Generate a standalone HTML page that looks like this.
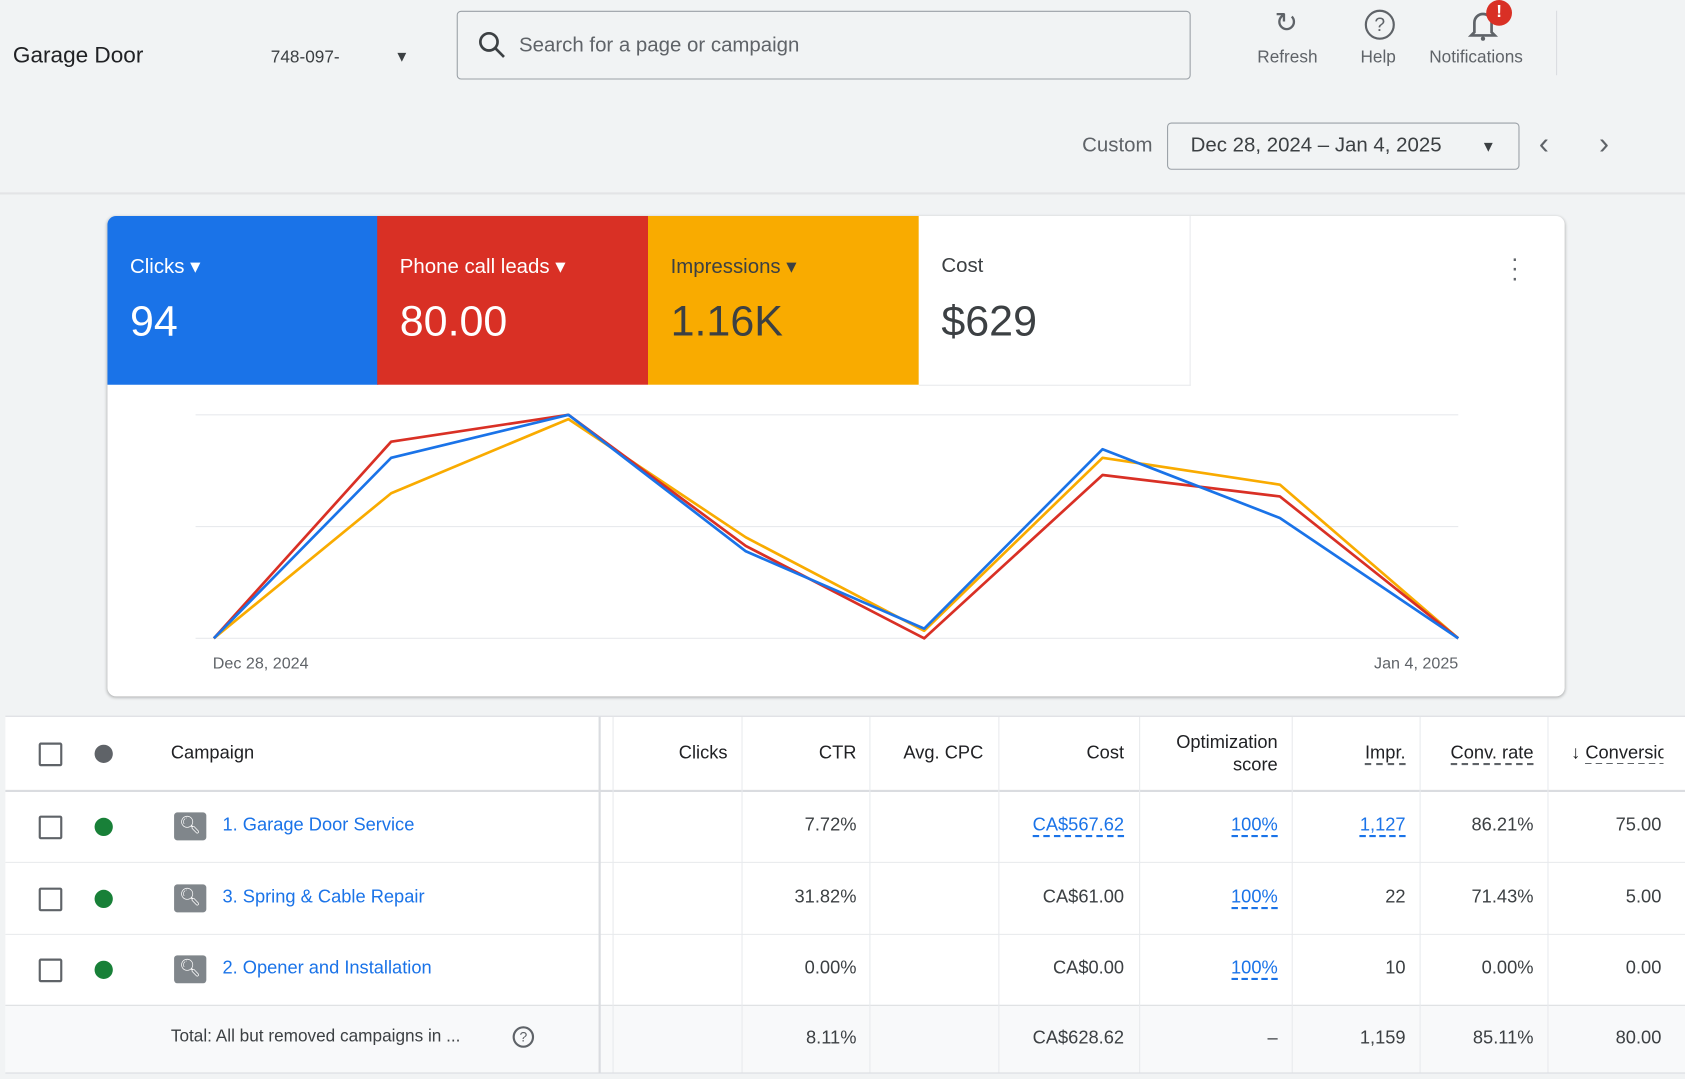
<!DOCTYPE html>
<html><head><meta charset="utf-8"><style>
html,body{margin:0;padding:0;width:1685px;height:1079px;overflow:hidden;background:#f1f3f4;}
#w{position:absolute;left:0;top:0;width:1568px;height:1004px;transform:scale(1.07462);transform-origin:0 0;font-family:"Liberation Sans",Arial,sans-serif;color:#3c4043;}
.a{position:absolute;white-space:nowrap;}
.r{text-align:right;}
.tile{position:absolute;top:201px;height:157px;width:252px;}
.tile .l{position:absolute;left:21px;top:36px;font-size:19px;}
.tile .v{position:absolute;left:21px;top:76px;font-size:40px;}
.cb{position:absolute;left:36px;width:18px;height:18px;border:2px solid #5f6368;border-radius:2px;}
.dot{position:absolute;left:88px;width:17px;height:17px;border-radius:50%;background:#188038;}
.si{position:absolute;left:162px;width:30px;height:26px;background:#80868b;border-radius:3px;color:#fff;font-size:16px;text-align:center;line-height:26px;}
.td{font-size:17px;color:#3c4043;}
.td.lk,.lk{color:#1a73e8;}
.du{border-bottom:2px dashed #1a73e8;}
.dg{border-bottom:2px dashed #5f6368;}
</style></head><body><div id="w">
<div class="a" style="left:12px;top:40px;font-size:21px;color:#202124">Garage Door</div>
<div class="a" style="left:252px;top:45px;font-size:16px">748-097-</div>
<div class="a" style="left:367px;top:44px;font-size:14px;color:#3c4043">▼</div>
<div class="a" style="left:425px;top:10px;width:681px;height:62px;border:1px solid #9aa0a6;border-radius:4px;background:#f1f3f4"></div>
<svg class="a" style="left:444px;top:28px" width="28" height="28"><circle cx="11" cy="11" r="8" fill="none" stroke="#3c4043" stroke-width="2.5"/><line x1="17" y1="17" x2="25" y2="25" stroke="#3c4043" stroke-width="2.5"/></svg>
<div class="a" style="left:483px;top:32px;font-size:19px;color:#5f6368">Search for a page or campaign</div>
<div class="a" style="left:1186px;top:6px;font-size:26px;color:#5f6368">↻</div>
<div class="a" style="left:1170px;top:45px;font-size:16px;color:#5f6368">Refresh</div>
<div class="a" style="left:1270px;top:9px;width:24px;height:24px;border:2px solid #5f6368;border-radius:50%;text-align:center;font-size:18px;line-height:24px;color:#5f6368">?</div>
<div class="a" style="left:1266px;top:45px;font-size:16px;color:#5f6368">Help</div>
<svg class="a" style="left:1366px;top:8px" width="28" height="30"><path d="M6 22 V13 a8 8 0 0 1 16 0 V22 l3 3 H3z" fill="none" stroke="#5f6368" stroke-width="2.5"/><circle cx="14" cy="28" r="2" fill="#5f6368"/></svg>
<div class="a" style="left:1383px;top:0px;width:24px;height:24px;border-radius:50%;background:#d93025;color:#fff;text-align:center;font-weight:bold;font-size:16px;line-height:24px">!</div>
<div class="a" style="left:1330px;top:45px;font-size:16px;color:#5f6368">Notifications</div>
<div class="a" style="left:1448px;top:10px;width:1px;height:60px;background:#dadce0"></div>
<div class="a" style="left:1007px;top:125px;font-size:19px;color:#5f6368">Custom</div>
<div class="a" style="left:1086px;top:114px;width:326px;height:42px;border:1px solid #9aa0a6;border-radius:4px"></div>
<div class="a" style="left:1108px;top:125px;font-size:19px;color:#3c4043">Dec 28, 2024 – Jan 4, 2025</div>
<div class="a" style="left:1378px;top:128px;font-size:14px">▼</div>
<div class="a" style="left:1432px;top:118px;font-size:28px;color:#5f6368">‹</div>
<div class="a" style="left:1488px;top:118px;font-size:28px;color:#5f6368">›</div>
<div class="a" style="left:0;top:179px;width:1568px;height:2px;background:#e3e4e6"></div>
<div class="a" style="left:100px;top:201px;width:1356px;height:447px;background:#fff;border-radius:8px;box-shadow:0 1px 3px rgba(0,0,0,.3)"></div>
<div class="tile" style="left:100px;background:#1a73e8;color:#fff;border-top-left-radius:8px"><div class="l">Clicks ▾</div><div class="v">94</div></div>
<div class="tile" style="left:351px;background:#d93025;color:#fff"><div class="l">Phone call leads ▾</div><div class="v">80.00</div></div>
<div class="tile" style="left:603px;background:#f9ab00;color:#3c4043"><div class="l">Impressions ▾</div><div class="v">1.16K</div></div>
<div class="tile" style="left:855px;background:#fff;color:#3c4043;border-right:1px solid #e8eaed;border-bottom:1px solid #e8eaed"><div class="l">Cost</div><div class="v">$629</div></div>
<div class="a" style="left:1406px;top:236px;font-size:22px;color:#5f6368;line-height:9px">·<br>·<br>·</div>
<svg class="a" style="left:0;top:0" width="1568" height="660">
<g stroke="#e8eaed" stroke-width="1"><line x1="182" y1="386" x2="1357" y2="386"/><line x1="182" y1="490" x2="1357" y2="490"/><line x1="182" y1="594" x2="1357" y2="594"/></g>
<g fill="none" stroke-width="2.5" stroke-linejoin="round">
<polyline stroke="#f9ab00" points="199,594 364,459 529,390 694,500 860,587 1026,426 1191,451 1357,594"/>
<polyline stroke="#d93025" points="199,594 364,411 529,386 694,508 860,594 1026,442 1191,462 1357,594"/>
<polyline stroke="#1a73e8" points="199,594 364,426 529,386 694,513 860,585 1026,418 1191,482 1357,594"/>
</g>
<text x="198" y="622" font-size="15" fill="#5f6368" font-family="Liberation Sans">Dec 28, 2024</text>
<text x="1357" y="622" font-size="15" fill="#5f6368" text-anchor="end" font-family="Liberation Sans">Jan 4, 2025</text>
</svg>
<div class="a" style="left:5px;top:667px;width:1563px;height:331px;background:#fff"></div>
<div class="a" style="left:5px;top:936px;width:1563px;height:62px;background:#f8f9fa"></div>
<div class="a" style="left:5px;top:666px;width:1563px;height:1px;background:#dadce0"></div>
<div class="a" style="left:5px;top:735px;width:1563px;height:2px;background:#dadce0"></div>
<div class="a" style="left:5px;top:802px;width:1563px;height:1px;background:#e8eaed"></div>
<div class="a" style="left:5px;top:869px;width:1563px;height:1px;background:#e8eaed"></div>
<div class="a" style="left:5px;top:935px;width:1563px;height:1px;background:#dadce0"></div>
<div class="a" style="left:5px;top:998px;width:1563px;height:1px;background:#dadce0"></div>
<div class="a" style="left:557px;top:667px;width:2px;height:331px;background:#dadce0"></div>
<div class="a" style="left:570px;top:667px;width:1px;height:331px;background:#e8eaed"></div>
<div class="a" style="left:690px;top:667px;width:1px;height:331px;background:#e8eaed"></div>
<div class="a" style="left:809px;top:667px;width:1px;height:331px;background:#e8eaed"></div>
<div class="a" style="left:929px;top:667px;width:1px;height:331px;background:#e8eaed"></div>
<div class="a" style="left:1060px;top:667px;width:1px;height:331px;background:#e8eaed"></div>
<div class="a" style="left:1202px;top:667px;width:1px;height:331px;background:#e8eaed"></div>
<div class="a" style="left:1321px;top:667px;width:1px;height:331px;background:#e8eaed"></div>
<div class="a" style="left:1440px;top:667px;width:1px;height:331px;background:#e8eaed"></div>
<div class="cb" style="top:691px"></div>
<div class="a" style="left:88px;top:693px;width:17px;height:17px;border-radius:50%;background:#5f6368"></div>
<div class="a td" style="left:159px;top:691px;font-weight:500;color:#202124">Campaign</div>
<div class="a td r" style="right:891px;top:691px;color:#202124">Clicks</div>
<div class="a td r" style="right:771px;top:691px;color:#202124">CTR</div>
<div class="a td r" style="right:653px;top:691px;color:#202124">Avg. CPC</div>
<div class="a td r" style="right:522px;top:691px;color:#202124">Cost</div>
<div class="a td r" style="right:379px;top:680px;color:#202124;line-height:21px">Optimization<br>score</div>
<div class="a td r" style="right:260px;top:691px;color:#202124"><span class="dg">Impr.</span></div>
<div class="a td r" style="right:141px;top:691px;color:#202124"><span class="dg">Conv. rate</span></div>
<div class="a td" style="left:1462px;top:691px;color:#202124;width:86px;overflow:hidden">↓ <span class="dg">Conversions</span></div>

<div class="cb" style="top:759px"></div><div class="dot" style="top:761px"></div><div class="si" style="top:756px">🔍︎</div>
<div class="a td lk" style="left:207px;top:758px">1. Garage Door Service</div>
<div class="a td r" style="right:771px;top:758px">7.72%</div>
<div class="a td r lk" style="right:522px;top:758px"><span class="du">CA$567.62</span></div>
<div class="a td r lk" style="right:379px;top:758px"><span class="du">100%</span></div>
<div class="a td r lk" style="right:260px;top:758px"><span class="du">1,127</span></div>
<div class="a td r" style="right:141px;top:758px">86.21%</div>
<div class="a td r" style="right:22px;top:758px">75.00</div>

<div class="cb" style="top:826px"></div><div class="dot" style="top:828px"></div><div class="si" style="top:823px">🔍︎</div>
<div class="a td lk" style="left:207px;top:825px">3. Spring &amp; Cable Repair</div>
<div class="a td r" style="right:771px;top:825px">31.82%</div>
<div class="a td r" style="right:522px;top:825px">CA$61.00</div>
<div class="a td r lk" style="right:379px;top:825px"><span class="du">100%</span></div>
<div class="a td r" style="right:260px;top:825px">22</div>
<div class="a td r" style="right:141px;top:825px">71.43%</div>
<div class="a td r" style="right:22px;top:825px">5.00</div>

<div class="cb" style="top:892px"></div><div class="dot" style="top:894px"></div><div class="si" style="top:889px">🔍︎</div>
<div class="a td lk" style="left:207px;top:891px">2. Opener and Installation</div>
<div class="a td r" style="right:771px;top:891px">0.00%</div>
<div class="a td r" style="right:522px;top:891px">CA$0.00</div>
<div class="a td r lk" style="right:379px;top:891px"><span class="du">100%</span></div>
<div class="a td r" style="right:260px;top:891px">10</div>
<div class="a td r" style="right:141px;top:891px">0.00%</div>
<div class="a td r" style="right:22px;top:891px">0.00</div>

<div class="a td" style="left:159px;top:956px;font-size:16px">Total: All but removed campaigns in ...</div>
<div class="a" style="left:477px;top:955px;width:16px;height:16px;border:2px solid #5f6368;border-radius:50%;font-size:13px;text-align:center;line-height:16px;color:#5f6368">?</div>
<div class="a td r" style="right:771px;top:956px">8.11%</div>
<div class="a td r" style="right:522px;top:956px">CA$628.62</div>
<div class="a td r" style="right:379px;top:956px">–</div>
<div class="a td r" style="right:260px;top:956px">1,159</div>
<div class="a td r" style="right:141px;top:956px">85.11%</div>
<div class="a td r" style="right:22px;top:956px">80.00</div>
</div></body></html>
